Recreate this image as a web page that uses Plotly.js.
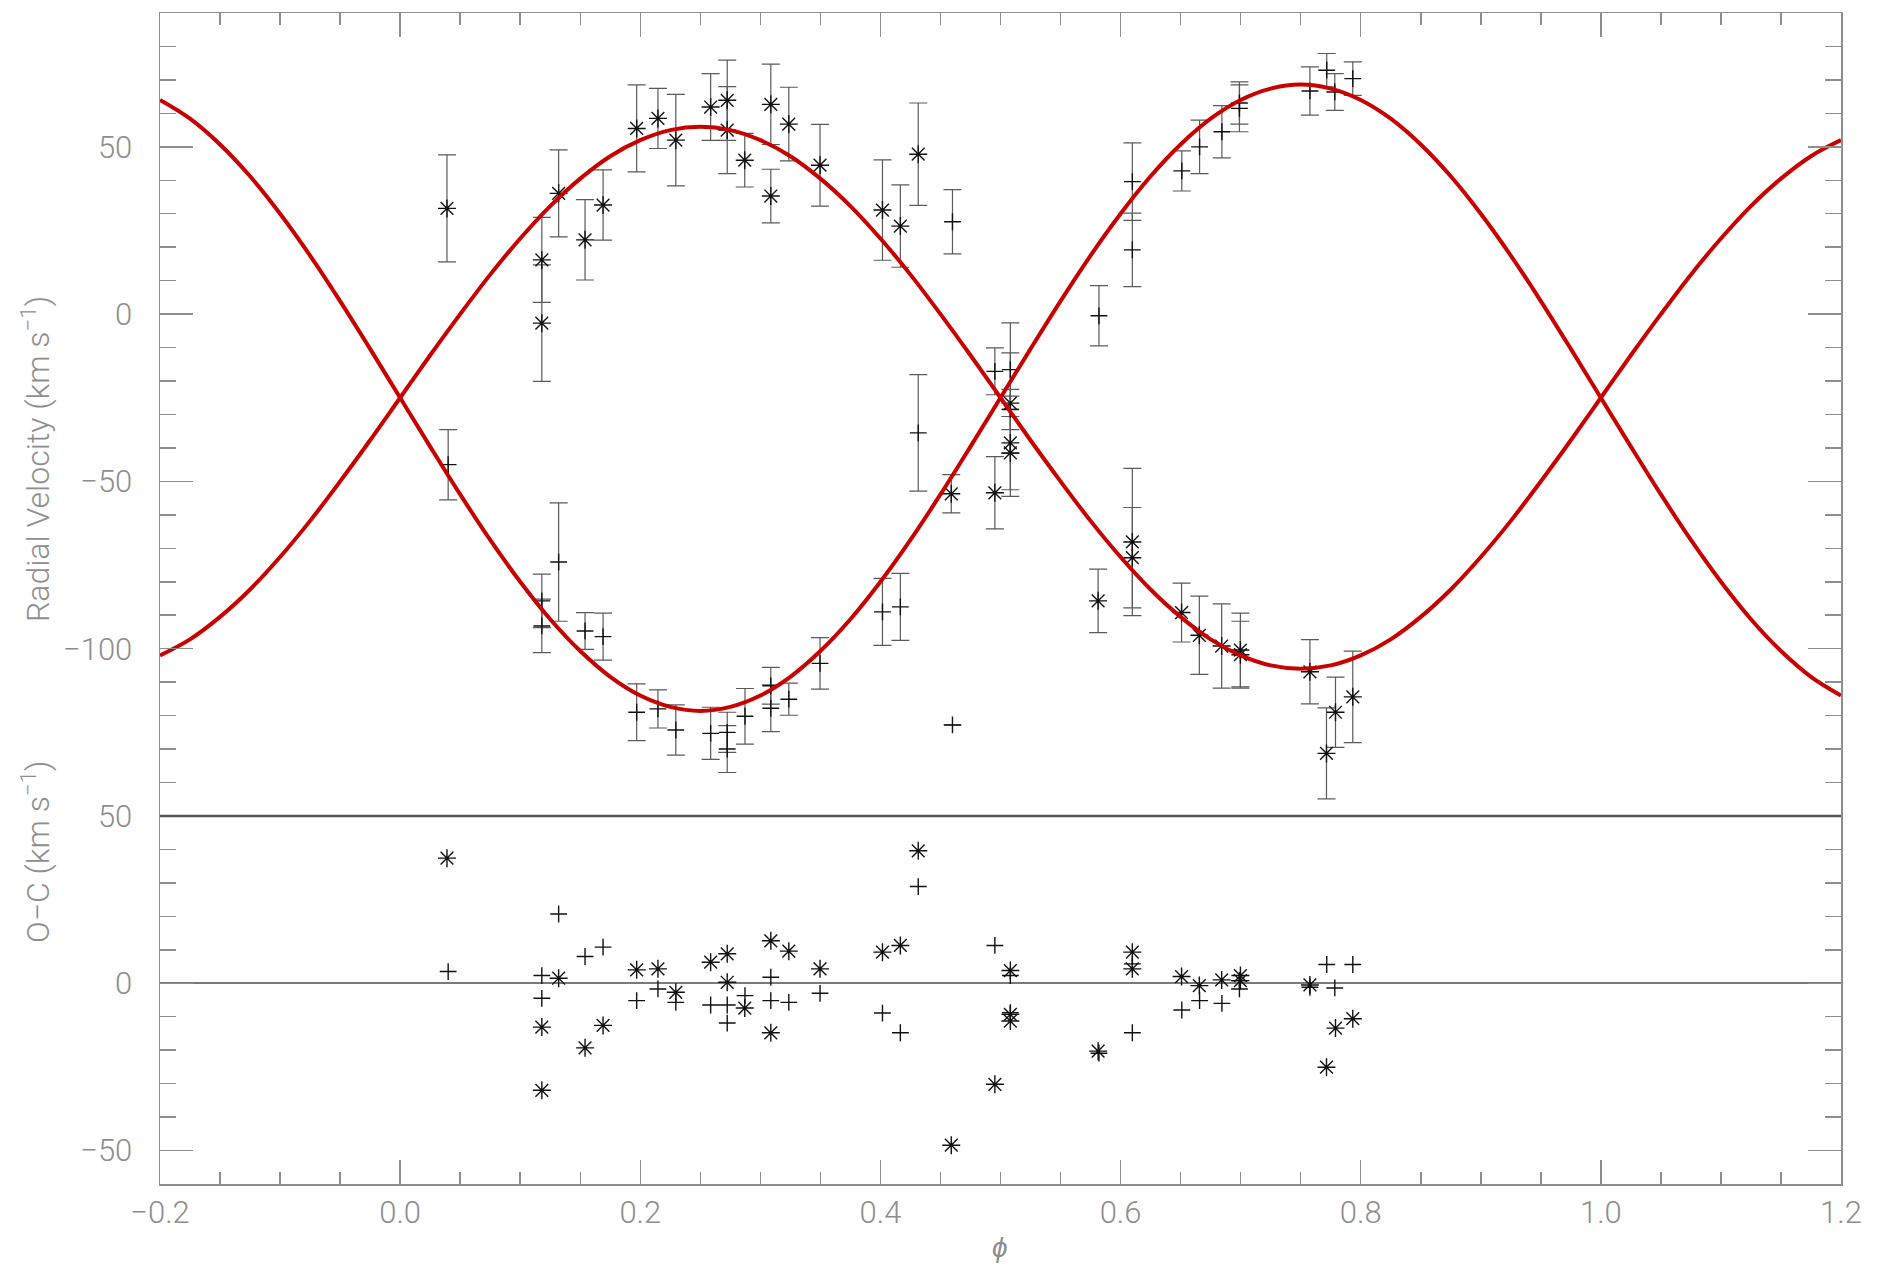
<!DOCTYPE html>
<html><head><meta charset="utf-8">
<script src="https://cdn.plot.ly/plotly-3.0.1.min.js"></script>
<style>html,body{margin:0;padding:0;background:#fff}#chart{width:1881px;height:1267px}</style>
</head><body><div id="chart"></div>
<script>
// ---- primary star (asterisks) ----
const phaseStar = [0.039,0.118,0.118,0.132,0.154,0.169,0.197,0.2147,0.2296,0.2586,0.2724,0.2724,0.287,0.3087,0.3087,0.3237,0.3497,0.4017,0.4166,0.4315,0.459,0.4953,0.5082,0.5082,0.5082,0.5813,0.6098,0.6098,0.6508,0.6656,0.6842,0.6998,0.6998,0.7577,0.7715,0.779,0.7934];
const rvStar = [31.6,16.2,-2.7,36.1,22.2,32.6,55.5,58.5,52,61.9,63.9,55,46,62.7,35.3,56.8,44.5,31.1,26.3,47.8,-53.7,-53.4,-26.6,-38.5,-41.5,-85.7,-68.1,-72.8,-89.2,-96,-99.2,-100.4,-101.8,-106.9,-131.3,-119,-114.4];
const errStar = [16,12.7,17.4,13,12,10.5,13,9,13.7,10,12,13,8,12,8,11,12.2,15,12.3,15.3,5.7,10.8,15,14,13,9.5,22,15,8.8,11.7,12.6,11,10,9.6,13.6,10.5,13.7];
const ocStar = [37.4,-13.1,-32,1.5,-19.3,-12.6,4,4.3,-2.7,6.3,8.8,0.3,-7.4,12.7,-14.8,9.6,4.3,9.3,11.3,39.6,-48.4,-30.2,3.8,-9.3,-11.3,-20.3,9.3,4.3,2,-0.7,1,2.3,0.8,-0.5,-25.1,-13.4,-10.6];

// ---- secondary star (plus signs) ----
const phasePlus = [0.04,0.118,0.118,0.132,0.154,0.169,0.197,0.2147,0.2296,0.2586,0.2724,0.2724,0.2872,0.3087,0.3087,0.3237,0.3497,0.4017,0.4166,0.4315,0.46,0.46,0.4953,0.5082,0.5082,0.582,0.6098,0.6098,0.651,0.6658,0.6844,0.699,0.699,0.7577,0.7717,0.7784,0.7934];
const rvPlus = [-45,-85.7,-93.2,-74.1,-94.7,-96.4,-119,-118,-124.3,-125.3,-125,-130,-120.2,-111.1,-117.8,-115.1,-104.4,-89,-87.5,-35.5,27.6,-122.8,-17.1,-16.6,-28.5,-0.5,39.6,19.2,42.8,50,54.5,63.1,61.5,66.7,72.9,66.4,70.4];
const errPlus = [10.5,8,8,17.7,5.5,7,8.5,5.7,7.5,7.8,6,7,8.3,5.5,7,4.8,7.7,10,10,17.4,9.6,null,7,14,6,9,11.6,11,6,8,7.8,6.3,7,7.2,5,5.5,5];
const ocPlus = [3.5,2.3,-4.5,20.7,8,10.8,-5.2,-1.7,-5.7,-6.5,-6.5,-11.9,-3.7,1.8,-5.2,-5.7,-3,-8.9,-14.8,28.9,null,null,11.3,2.3,-8.8,-20.9,5.8,-14.8,-8,-5.2,-6,0.8,-1.7,-1.2,5.6,-1.4,5.6];

// ---- fitted orbit curves (every 0.025 in phase) ----
const curvePhase = [-0.2,-0.175,-0.15,-0.125,-0.1,-0.075,-0.05,-0.025,0,
  0.025,0.05,0.075,0.1,0.125,0.15,0.175,0.2,0.225,0.25,
  0.275,0.3,0.325,0.35,0.375,0.4,0.425,0.45,0.475,0.5,
  0.525,0.55,0.575,0.6,0.625,0.65,0.675,0.7,0.725,0.75,
  0.775,0.8,0.825,0.85,0.875,0.9,0.925,0.95,0.975,1.0,
  1.025,1.05,1.075,1.1,1.125,1.15,1.175,1.2];
const curvePrimary = [-102,-97.2,-90.5,-82.3,-72.6,-61.8,-50,-37.7,-25,
  -12.3,0,11.8,22.6,32.3,40.5,47.2,52,55,56,
  55,52,47.2,40.5,32.3,22.6,11.8,0,-12.3,-25,
  -37.7,-50,-61.8,-72.6,-82.3,-90.5,-97.2,-102,-105,-106,
  -105,-102,-97.2,-90.5,-82.3,-72.6,-61.8,-50,-37.7,-25,
  -12.3,0,11.8,22.6,32.3,40.5,47.2,52];
const curveSecondary = [64,58.4,50.7,41.2,30,17.5,3.9,-10.4,-25,
  -39.6,-53.9,-67.5,-80,-91.2,-100.7,-108.4,-114,-117.4,-118.6,
  -117.4,-114,-108.4,-100.7,-91.2,-80,-67.5,-53.9,-39.6,-25,
  -10.4,3.9,17.5,30,41.2,50.7,58.4,64,67.4,68.6,
  67.4,64,58.4,50.7,41.2,30,17.5,3.9,-10.4,-25,
  -39.6,-53.9,-67.5,-80,-91.2,-100.7,-108.4,-114];

// ---- ticks ----
const xTicks = [-0.2,0,0.2,0.4,0.6,0.8,1.0,1.2];
const xTickLabels = ['\u22120.2','0.0','0.2','0.4','0.6','0.8','1.0','1.2'];
const rvTicks = [-100,-50,0,50];
const rvTickLabels = ['\u2212100','\u221250','0','50'];
const ocTicks = [-50,0,50];
const ocTickLabels = ['\u221250','0','50'];

const split = 110/350;
const axisGray = '#8e8e8e';
const fontFam = 'Roboto, "Liberation Sans", Arial, sans-serif';
const tickFont = {family: fontFam, size: 31, color: '#8e8e8e', weight: 300};

function xAxisBase() {
  return {
    range: [-0.2, 1.2], tickmode: 'array', tickvals: xTicks, ticktext: xTickLabels,
    ticks: 'inside', ticklen: 24, tickwidth: 1.5, tickcolor: axisGray,
    showline: true, linecolor: axisGray, linewidth: 1.5,
    showgrid: false, zeroline: false,
    minor: {ticks: 'inside', ticklen: 12, tickwidth: 1.5, tickcolor: axisGray, dtick: 0.05, tick0: 0, showgrid: false},
    tickfont: tickFont
  };
}
function yAxisBase() {
  return {
    tickmode: 'array', ticks: 'inside', ticklen: 33, tickwidth: 1.5, tickcolor: axisGray,
    showline: true, linecolor: axisGray, linewidth: 1.5, mirror: 'ticks',
    showgrid: false,
    minor: {ticks: 'inside', ticklen: 16, tickwidth: 1.5, tickcolor: axisGray, dtick: 10, tick0: 0, showgrid: false},
    tickfont: tickFont, ticklabelstandoff: 20
  };
}

const xaxis = Object.assign(xAxisBase(), {domain: [0, 1], anchor: 'y', side: 'bottom', ticklabelstandoff: 0});
const xaxis2 = Object.assign(xAxisBase(), {domain: [0, 1], anchor: 'y2', side: 'top', showticklabels: false});
const yaxis = Object.assign(yAxisBase(), {domain: [0, split], range: [-60, 50], tickvals: ocTicks, ticktext: ocTickLabels,
  zeroline: true, zerolinecolor: '#7a7a7a', zerolinewidth: 1.6});
const yaxis2 = Object.assign(yAxisBase(), {domain: [split, 1], range: [-150, 90], anchor: 'x2', tickvals: rvTicks, ticktext: rvTickLabels, zeroline: false});

const errStyle = (arr) => ({type: 'data', array: arr, visible: true, color: '#5a5a5a', thickness: 1.2, width: 9});
const starMarker = {symbol: 'asterisk-open', size: 15, color: '#111', line: {color: '#111', width: 1.4}};
const plusMarker = {symbol: 'cross-thin-open', size: 12, color: '#111', line: {color: '#111', width: 1.4}};
const curveLine = {color: '#c80000', width: 4, shape: 'spline', smoothing: 1.0};

const traces = [
  {type: 'scatter', mode: 'markers', x: phaseStar, y: rvStar, xaxis: 'x2', yaxis: 'y2', marker: starMarker, error_y: errStyle(errStar), hoverinfo: 'skip'},
  {type: 'scatter', mode: 'markers', x: phasePlus, y: rvPlus, xaxis: 'x2', yaxis: 'y2', marker: plusMarker, error_y: errStyle(errPlus), hoverinfo: 'skip'},
  {type: 'scatter', mode: 'lines', x: curvePhase, y: curvePrimary, xaxis: 'x2', yaxis: 'y2', line: curveLine, hoverinfo: 'skip'},
  {type: 'scatter', mode: 'lines', x: curvePhase, y: curveSecondary, xaxis: 'x2', yaxis: 'y2', line: curveLine, hoverinfo: 'skip'},
  {type: 'scatter', mode: 'markers', x: phaseStar, y: ocStar, xaxis: 'x', yaxis: 'y', marker: starMarker, hoverinfo: 'skip'},
  {type: 'scatter', mode: 'markers', x: phasePlus, y: ocPlus, xaxis: 'x', yaxis: 'y', marker: plusMarker, hoverinfo: 'skip'}
];

const titleFont = {family: fontFam, size: 32, color: '#8e8e8e', weight: 300};
const layout = {
  width: 1881, height: 1267,
  margin: {l: 160, r: 40, t: 13, b: 83, pad: 0},
  paper_bgcolor: '#ffffff', plot_bgcolor: '#ffffff',
  showlegend: false,
  font: {family: fontFam, color: '#8e8e8e', size: 31},
  xaxis: xaxis, xaxis2: xaxis2, yaxis: yaxis, yaxis2: yaxis2,
  shapes: [
    {type: 'line', xref: 'paper', yref: 'paper', x0: 0, x1: 1, y0: split, y1: split, line: {color: '#555', width: 2.5}}
  ],
  annotations: [
    {xref: 'paper', yref: 'paper', x: -0.0738, y: 0.619, text: 'Radial Velocity (km s<sup>\u22121</sup>)', textangle: -90,
     showarrow: false, xanchor: 'center', yanchor: 'middle', font: titleFont},
    {xref: 'paper', yref: 'paper', x: -0.0738, y: 0.2835, text: 'O\u2212C (km s<sup>\u22121</sup>)', textangle: -90,
     showarrow: false, xanchor: 'center', yanchor: 'middle', font: titleFont},
    {xref: 'paper', yref: 'paper', x: 0.4997, y: -0.054, text: '\u03D5', showarrow: false, xanchor: 'center', yanchor: 'middle',
     font: {family: fontFam, size: 28, color: '#8e8e8e', style: 'italic'}}
  ]
};

Plotly.newPlot('chart', traces, layout, {staticPlot: true, displayModeBar: false});
</script></body></html>
